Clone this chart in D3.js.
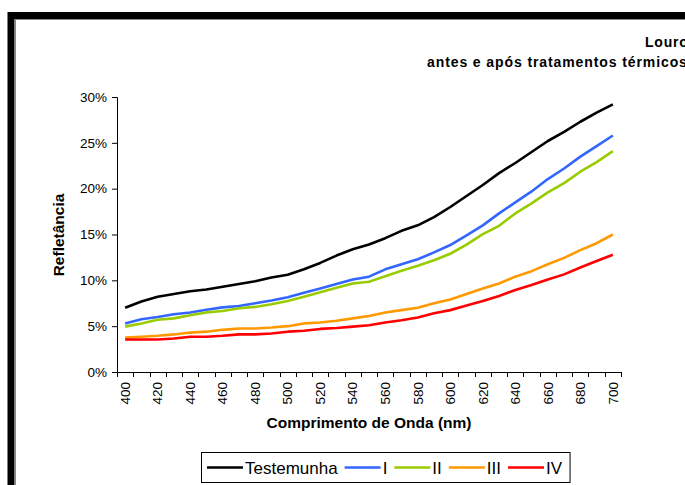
<!DOCTYPE html>
<html>
<head>
<meta charset="utf-8">
<script src="https://cdn.jsdelivr.net/npm/d3@7"></script>
<style>
  body { margin: 0; background: #fff; }
  svg { display: block; font-family: "Liberation Sans", Arial, sans-serif; }
</style>
</head>
<body>
<script>
// wavelengths (nm) and reflectance (%)
var wavelengths = [400, 410, 420, 430, 440, 450, 460, 470, 480, 490, 500, 510, 520, 530, 540,
                   550, 560, 570, 580, 590, 600, 610, 620, 630, 640, 650, 660, 670, 680, 690, 700];

var testemunha = [7.0, 7.7, 8.2, 8.5, 8.8, 9.0, 9.3, 9.6, 9.9, 10.3, 10.6, 11.2, 11.9, 12.7, 13.4,
                  13.9, 14.6, 15.4, 16.0, 16.9, 18.0, 19.2, 20.4, 21.7, 22.8, 24.0, 25.2, 26.2, 27.3, 28.3, 29.2];
var trat1 = [5.3, 5.75, 6.0, 6.3, 6.5, 6.8, 7.05, 7.2, 7.5, 7.8, 8.15, 8.65, 9.1, 9.6, 10.1,
             10.4, 11.2, 11.75, 12.3, 13.05, 13.85, 14.9, 16.0, 17.3, 18.5, 19.7, 21.05, 22.2, 23.5, 24.65, 25.8];
var trat2 = [4.95, 5.3, 5.7, 5.85, 6.2, 6.5, 6.65, 6.95, 7.1, 7.4, 7.75, 8.2, 8.7, 9.2, 9.65,
             9.85, 10.45, 11.05, 11.6, 12.2, 12.9, 13.9, 15.05, 15.95, 17.3, 18.4, 19.6, 20.6, 21.85, 22.9, 24.1];
var trat3 = [3.75, 3.85, 3.95, 4.1, 4.3, 4.4, 4.6, 4.75, 4.75, 4.85, 5.0, 5.3, 5.4, 5.6, 5.85,
             6.1, 6.5, 6.75, 7.0, 7.5, 7.9, 8.5, 9.1, 9.65, 10.4, 11.0, 11.75, 12.45, 13.3, 14.05, 15.0];
var trat4 = [3.55, 3.55, 3.55, 3.65, 3.85, 3.85, 3.95, 4.1, 4.1, 4.2, 4.4, 4.5, 4.7, 4.8, 4.95,
             5.1, 5.4, 5.65, 5.95, 6.4, 6.75, 7.25, 7.75, 8.3, 8.95, 9.5, 10.1, 10.65, 11.4, 12.1, 12.8];

var seriesNames = ["Testemunha", "I", "II", "III", "IV"];
var seriesColors = ["#000000", "#3366ff", "#99cc00", "#ff9900", "#ff0000"];
var yTicks = [0, 5, 10, 15, 20, 25, 30];
var xLabels = [400, 420, 440, 460, 480, 500, 520, 540, 560, 580, 600, 620, 640, 660, 680, 700];

var allSeries = [testemunha, trat1, trat2, trat3, trat4];

var width = 685, height = 485;
var plotLeft = 117, plotRight = 621, plotTop = 97, plotBottom = 372;

var svg = d3.select("body").append("svg")
    .attr("width", width)
    .attr("height", height);

/*****************  Frame **********************/

svg.append("rect")
    .attr("x", 11).attr("y", 15.5)
    .attr("width", 700).attr("height", 500)
    .attr("fill", "#fff")
    .attr("stroke", "#000")
    .attr("stroke-width", 7);

svg.append("rect")
    .attr("x", 15.5).attr("y", 19.5)
    .attr("width", 700).attr("height", 500)
    .attr("fill", "none")
    .attr("stroke", "#888")
    .attr("stroke-width", 1);

/*****************  Title **********************/

svg.append("text")
    .attr("x", 645).attr("y", 47)
    .attr("font-size", "14px")
    .attr("font-weight", "bold")
    .attr("letter-spacing", "0.8px")
    .text("Louro");

svg.append("text")
    .attr("x", 427).attr("y", 67)
    .attr("font-size", "14px")
    .attr("font-weight", "bold")
    .attr("letter-spacing", "0.9px")
    .text("antes e após tratamentos térmicos");

/*****************  Scales **********************/

var x = d3.scaleBand()
    .domain(wavelengths)
    .range([plotLeft, plotRight]);

var y = d3.scaleLinear()
    .domain([0, 30])
    .range([plotBottom, plotTop]);

/*****************  Axes **********************/

var yAxis = svg.append("g")
    .attr("transform", "translate(" + plotLeft + ",0)")
    .call(d3.axisLeft(y).tickValues(yTicks).tickSize(5).tickPadding(5)
        .tickFormat(function (d) { return d + "%"; }));

yAxis.selectAll("text")
    .attr("font-size", "13.5px")
    .attr("font-family", "Liberation Sans, Arial, sans-serif")
    .attr("fill", "#000");

yAxis.select(".domain").attr("stroke", "#000");

// x axis: ticks at band edges, labels every 20 nm
var xAxisG = svg.append("g");

xAxisG.append("line")
    .attr("x1", plotLeft).attr("x2", plotRight)
    .attr("y1", plotBottom + 0.5).attr("y2", plotBottom + 0.5)
    .attr("stroke", "#000");

var edges = wavelengths.map(function (d) { return x(d); }).concat([plotRight]);

xAxisG.selectAll(".xtick")
    .data(edges)
    .enter()
    .append("line")
    .attr("class", "xtick")
    .attr("x1", function (d) { return Math.round(d) + 0.5; })
    .attr("x2", function (d) { return Math.round(d) + 0.5; })
    .attr("y1", plotBottom)
    .attr("y2", plotBottom + 5)
    .attr("stroke", "#000");

xAxisG.selectAll(".xlabel")
    .data(xLabels)
    .enter()
    .append("text")
    .attr("class", "xlabel")
    .attr("transform", function (d) {
        return "translate(" + (x(d) + x.bandwidth() / 2) + "," + (plotBottom + 10) + ") rotate(-90)";
    })
    .attr("text-anchor", "end")
    .attr("dy", "0.35em")
    .attr("font-size", "13.5px")
    .text(function (d) { return d; });

/*****************  Axis Titles **********************/

svg.append("text")
    .attr("transform", "translate(64,235) rotate(-90)")
    .attr("text-anchor", "middle")
    .attr("font-size", "15.5px")
    .attr("font-weight", "bold")
    .text("Refletância");

svg.append("text")
    .attr("x", 369).attr("y", 428)
    .attr("text-anchor", "middle")
    .attr("font-size", "15.5px")
    .attr("font-weight", "bold")
    .text("Comprimento de Onda (nm)");

/*****************  Lines **********************/

var line = d3.line()
    .x(function (d, i) { return x(wavelengths[i]) + x.bandwidth() / 2; })
    .y(function (d) { return y(d); });

svg.selectAll(".series")
    .data(allSeries)
    .enter()
    .append("path")
    .attr("class", "series")
    .attr("d", line)
    .attr("fill", "none")
    .attr("stroke", function (d, i) { return seriesColors[i]; })
    .attr("stroke-width", 2.6)
    .attr("stroke-linejoin", "round");

/*****************  Legend **********************/

var legend = svg.append("g");

var legendBox = legend.append("rect")
    .attr("x", 201.5).attr("y", 452.5)
    .attr("height", 30)
    .attr("fill", "#fff")
    .attr("stroke", "#000");

var lx = 207;
seriesNames.forEach(function (name, i) {
    legend.append("line")
        .attr("x1", lx).attr("x2", lx + 36)
        .attr("y1", 467.5).attr("y2", 467.5)
        .attr("stroke", seriesColors[i])
        .attr("stroke-width", 2.6);
    var t = legend.append("text")
        .attr("x", lx + 38).attr("y", 474)
        .attr("font-size", "17px")
        .text(name);
    lx += 38 + t.node().getComputedTextLength() + 7;
});

legendBox.attr("width", lx - 201.5 + 1);
</script>
</body>
</html>
